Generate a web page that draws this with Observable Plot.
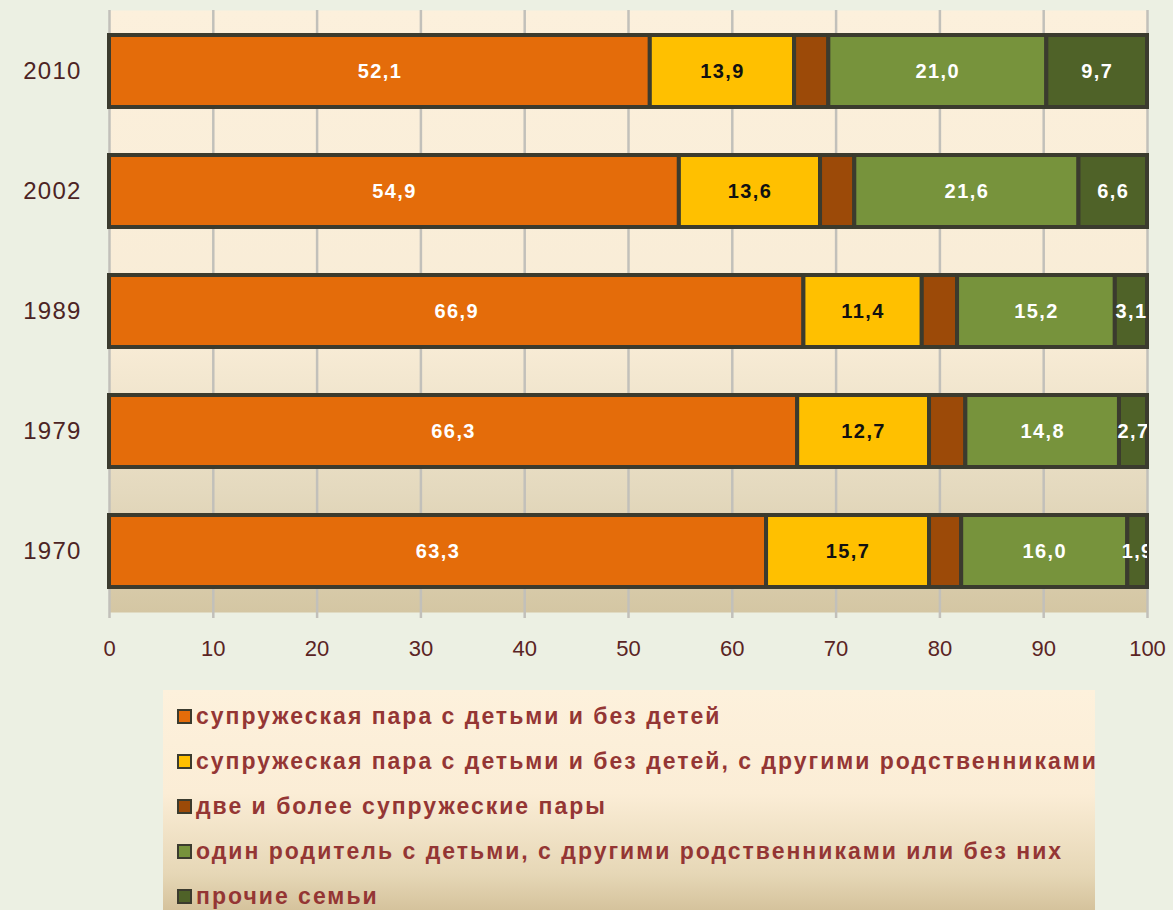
<!DOCTYPE html>
<html><head><meta charset="utf-8">
<script src="https://cdn.jsdelivr.net/npm/d3@7"></script>
<script src="https://cdn.jsdelivr.net/npm/@observablehq/plot@0.6"></script>
<style>
html,body{margin:0;padding:0;background:#ECF0E3;width:1173px;height:910px;overflow:hidden;font-family:"Liberation Sans",Arial,sans-serif;}
#chart{position:absolute;left:0;top:0;}
#legend{position:absolute;left:163px;top:690px;width:932px;height:230px;background:linear-gradient(to bottom,#FDF1DC 0%,#FBEDD6 45%,#E6D7B6 80%,#D0BD95 100%);}
.item{position:absolute;left:14px;height:26px;display:flex;align-items:center;font-family:"Liberation Sans",sans-serif;font-weight:bold;font-size:23px;color:#943634;letter-spacing:2px;white-space:nowrap;}
.sw{width:11px;height:11px;border:2px solid #3B3B2E;margin-right:4px;flex:none;}
</style></head>
<body>
<div id="chart"></div>
<div id="legend"></div>
<script>
const years = ["2010","2002","1989","1979","1970"];
const categories = [
  "супружеская пара с детьми и без детей",
  "супружеская пара с детьми и без детей, с другими родственниками",
  "две и более супружеские пары",
  "один родитель с детьми, с другими родственниками или без них",
  "прочие семьи"
];
const coupleValues   = [52.1, 54.9, 66.9, 66.3, 63.3];
const extendedValues = [13.9, 13.6, 11.4, 12.7, 15.7];
const multiValues    = [3.3, 3.3, 3.4, 3.5, 3.1];
const singleValues   = [21.0, 21.6, 15.2, 14.8, 16.0];
const otherValues    = [9.7, 6.6, 3.1, 2.7, 1.9];
const xTicks = [0,10,20,30,40,50,60,70,80,90,100];
const colors = ["#E46C0A","#FFC000","#9C4A08","#77933C","#4F6228"];
const labelColors = ["#FFFFFF","#111111",null,"#FFFFFF","#FFFFFF"];

const series = [coupleValues, extendedValues, multiValues, singleValues, otherValues];
const data = [];
years.forEach((y, i) => {
  series.forEach((s, k) => data.push({year: y, cat: k, value: s[i]}));
});

const fmt = v => v.toFixed(1).replace(".", ",");

const plot = Plot.plot({
  width: 1173,
  height: 680,
  marginLeft: 109,
  marginRight: 26,
  marginTop: 10,
  marginBottom: 68,
  style: {background: "transparent", fontFamily: "Liberation Sans, Arial, sans-serif"},
  x: {domain: [0, 100], ticks: xTicks, label: null},
  y: {domain: years, paddingInner: 0.4, paddingOuter: 0.2, label: null},
  color: {type: "identity"},
  marks: [
    Plot.frame({fill: "url(#plotbg)", stroke: "none"}),
    Plot.ruleX(xTicks, {stroke: "#C2C0BA", strokeWidth: 2.5}),
    Plot.axisX({ticks: xTicks, tickSize: 6, stroke: "#C2C0BA", strokeWidth: 2.5, tickPadding: 22, fontSize: 22, fill: "#5A2424", tickFormat: d => String(d)}),
    Plot.axisY({tickSize: 0, tickPadding: 28, fontSize: 24, fill: "#4D2424"}),
    Plot.barX(data, Plot.stackX({x: "value", y: "year", z: "cat", order: null, fill: d => colors[d.cat], stroke: "#3B3B2E", strokeWidth: 4})),
    Plot.text(data, Plot.stackX({x: "value", y: "year", z: "cat", order: null,
      text: d => labelColors[d.cat] ? fmt(d.value) : null,
      fill: d => labelColors[d.cat] || "none",
      fontSize: 20, fontWeight: "bold", clip: true}))
  ]
});

const svg = d3.select(plot);
const defs = svg.insert("defs", ":first-child");
const g = defs.append("linearGradient").attr("id", "plotbg").attr("x1", 0).attr("y1", 0).attr("x2", 0).attr("y2", 1);
g.append("stop").attr("offset", "0%").attr("stop-color", "#FCF0DC");
g.append("stop").attr("offset", "55%").attr("stop-color", "#F8ECD6");
g.append("stop").attr("offset", "80%").attr("stop-color", "#E4D9BE");
g.append("stop").attr("offset", "100%").attr("stop-color", "#D4C6A3");

svg.selectAll('g[aria-label="text"] text').style("letter-spacing", "1.4px");
svg.selectAll('g[aria-label="y-axis tick label"] text').style("letter-spacing", "1.2px");

document.getElementById("chart").appendChild(plot);

const legend = document.getElementById("legend");
categories.forEach((c, k) => {
  const it = document.createElement("div");
  it.className = "item";
  it.style.top = (13 + k * 45) + "px";
  const sw = document.createElement("span");
  sw.className = "sw";
  sw.style.background = colors[k];
  it.appendChild(sw);
  it.appendChild(document.createTextNode(c));
  legend.appendChild(it);
});
</script>
</body></html>
